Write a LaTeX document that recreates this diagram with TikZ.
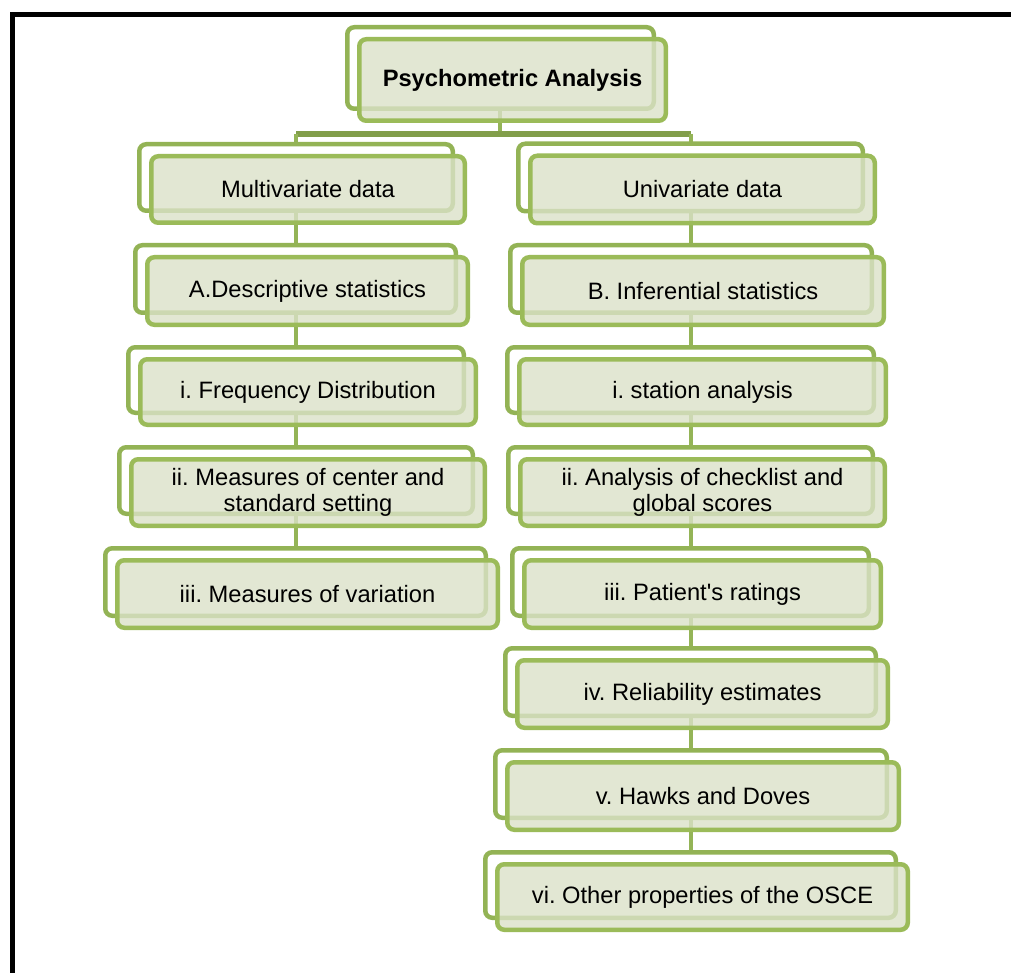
\documentclass[tikz,border=0pt]{standalone}
\usepackage{fontspec}
\setmainfont{Liberation Sans}
\frenchspacing
\definecolor{boxline}{HTML}{9BBB59}
\definecolor{backline}{HTML}{93B355}
\definecolor{boxfill}{RGB}{219,226,200}
\definecolor{connv}{HTML}{94B457}
\definecolor{connh}{HTML}{829E4B}
\tikzset{
  frontbox/.style={draw=boxline, line width=4.5pt, rounded corners=7pt,
    fill=boxfill, fill opacity=0.8, text opacity=1, inner sep=0pt,
    align=center, font=\fontsize{23.7}{25.5}\selectfont},
  backbox/.style={draw=backline, line width=4.5pt, rounded corners=7pt,
    fill=white, inner sep=0pt},
  conn/.style={draw=connv, line width=4pt},
  connhor/.style={draw=connh, line width=5.5pt},
}
% \gbox{name}{cx}{cy}{outer w}{outer h}{text}
\newcommand{\gbox}[6]{%
  \node[backbox, minimum width=#4pt-4.5pt, minimum height=#5pt-4.5pt]
    (#1) at (#2-12,#3-12) {};
  \node[frontbox, minimum width=#4pt-4.5pt, minimum height=#5pt-4.5pt]
    (#1-f) at (#2,#3) {\frenchspacing #6};
}
\begin{document}
\begin{tikzpicture}[x=1pt,y=-1pt]
\useasboundingbox (0,0) rectangle (1011,973);
\fill[white] (0,0) rectangle (1011,973);
% border
\draw[black, line width=5pt] (12.5,973) -- (12.5,14.5) -- (1011,14.5);

% coordinates for connectors (drawn first, behind boxes)
\coordinate (split) at (500,134);
\coordinate (topS) at (500,110);
\coordinate (lx) at (296,0);
\coordinate (rx) at (690.5,0);

% connectors
\draw[conn] (topS) -- (split);
\draw[connhor] (lx |- split) -- (rx |- split);
\draw[conn] (lx |- split) -- (296,160);
\draw[conn] (rx |- split) -- (690.5,160);
\draw[conn] (296,190) -- (296,600);
\draw[conn] (690.5,190) -- (690.5,900);

% boxes
\gbox{top}{512.5}{80}{311}{86}{\textbf{Psychometric Analysis}}
\gbox{multi}{308}{189.5}{318}{71}{Multivariate data}
\gbox{uni}{702.5}{189.5}{349}{72}{Univariate data}
\gbox{desc}{307.5}{291}{325}{72}{A.Descriptive statistics}
\gbox{infer}{703}{291}{366}{72}{B. Inferential statistics}
\gbox{freq}{308}{392}{340}{70}{i. Frequency Distribution}
\gbox{stat}{702.5}{392}{371}{70}{i. station analysis}
\gbox{center}{308}{492.5}{358}{71}{ii. Measures of center and\\standard setting}
\gbox{check}{702.5}{492.5}{369}{71}{ii. Analysis of checklist and\\global scores}
\gbox{vari}{307.5}{594}{385}{72}{iii. Measures of variation}
\gbox{pat}{702.5}{594}{361}{72}{iii. Patient\textquotesingle s ratings}
\gbox{rel}{702.5}{694}{375}{72}{iv. Reliability estimates}
\gbox{hawk}{703}{796}{396}{72}{v. Hawks and Doves}
\gbox{osce}{702.5}{897}{415}{70}{vi. Other properties of the OSCE}
\end{tikzpicture}
\end{document}
